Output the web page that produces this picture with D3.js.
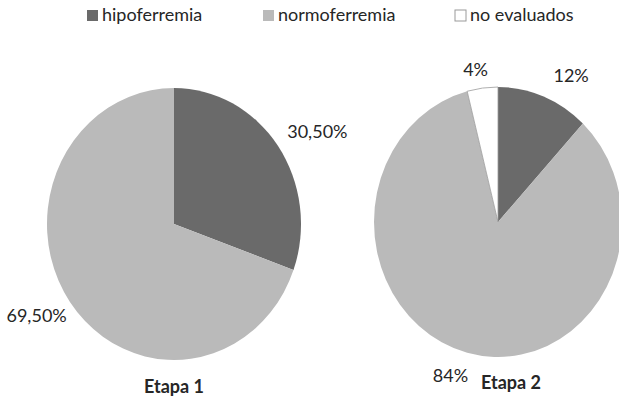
<!DOCTYPE html>
<html>
<head>
<meta charset="utf-8">
<script src="https://cdn.jsdelivr.net/npm/d3@7"></script>
<style>
  html, body { margin: 0; padding: 0; background: #fff; }
  svg { display: block; }
  text { font-family: Lato, "Open Sans", sans-serif; fill: #262626; }
</style>
</head>
<body>
<svg id="chart" width="619" height="399"></svg>
<script>
// Iron status by stage (percent of children)
const categories = ["hipoferremia", "normoferremia", "no evaluados"];
const stages = ["Etapa 1", "Etapa 2"];
const etapa1Values = [30.5, 69.5, 0];
const etapa2Values = [12, 84, 4];
const etapa1Labels = ["30,50%", "69,50%", ""];
const etapa2Labels = ["12%", "84%", "4%"];

const colors = d3.scaleOrdinal()
  .domain(categories)
  .range(["#6a6a6a", "#bababa", "#ffffff"]);

const svg = d3.select("#chart");
const FS = 18;

// Legend across the top
const legendX = [87, 263, 455];
const legend = svg.append("g").attr("class", "legend");
categories.forEach((c, i) => {
  const g = legend.append("g").attr("transform", `translate(${legendX[i]},10)`);
  g.append("rect")
    .attr("width", 11).attr("height", 11)
    .attr("fill", colors(c))
    .attr("stroke", c === "no evaluados" ? "#9a9a9a" : "none")
    .attr("stroke-width", 1);
  g.append("text")
    .attr("x", 15).attr("y", 6)
    .attr("dominant-baseline", "middle")
    .attr("font-size", FS)
    .text(c);
});

// Pie layout in data order, clockwise from 12 o'clock
const pie = d3.pie().sort(null).value(d => d);

const panels = [
  { name: stages[0], values: etapa1Values, labels: etapa1Labels,
    cx: 174, cy: 224, rx: 127, ry: 136,
    nudges: [[27, -3], [-21, 6], [0, 0]], title: [174, 388] },
  { name: stages[1], values: etapa2Values, labels: etapa2Labels,
    cx: 498, cy: 222, rx: 124, ry: 135,
    nudges: [[22, -4], [-13, 9], [-5, -1]], title: [511, 384] }
];

panels.forEach(p => {
  const arcs = pie(p.values);
  const arc = d3.arc().innerRadius(0).outerRadius(p.rx);
  const sy = p.ry / p.rx;

  const g = svg.append("g")
    .attr("transform", `translate(${p.cx},${p.cy}) scale(1,${sy})`);

  g.selectAll("path")
    .data(arcs.map((a, i) => ({ ...a, cat: categories[i] })).filter(a => a.value > 0))
    .join("path")
    .attr("d", arc)
    .attr("fill", d => colors(d.cat))
    .attr("stroke", d => d.cat === "no evaluados" ? "#9a9a9a" : "none")
    .attr("stroke-width", 0.8)
    .attr("vector-effect", "non-scaling-stroke");

  // Percentage labels placed outside each slice along its mid angle
  const k = 1.12;
  arcs.forEach((a, i) => {
    if (!p.labels[i]) return;
    const mid = (a.startAngle + a.endAngle) / 2;
    const x = p.cx + p.rx * k * Math.sin(mid) + p.nudges[i][0];
    const y = p.cy - p.ry * k * Math.cos(mid) + p.nudges[i][1];
    svg.append("text")
      .attr("x", x).attr("y", y)
      .attr("text-anchor", "middle")
      .attr("dominant-baseline", "middle")
      .attr("font-size", FS)
      .text(p.labels[i]);
  });

  svg.append("text")
    .attr("x", p.title[0]).attr("y", p.title[1])
    .attr("text-anchor", "middle")
    .attr("dominant-baseline", "middle")
    .attr("font-size", FS)
    .attr("font-weight", "bold")
    .text(p.name);
});
</script>
</body>
</html>
